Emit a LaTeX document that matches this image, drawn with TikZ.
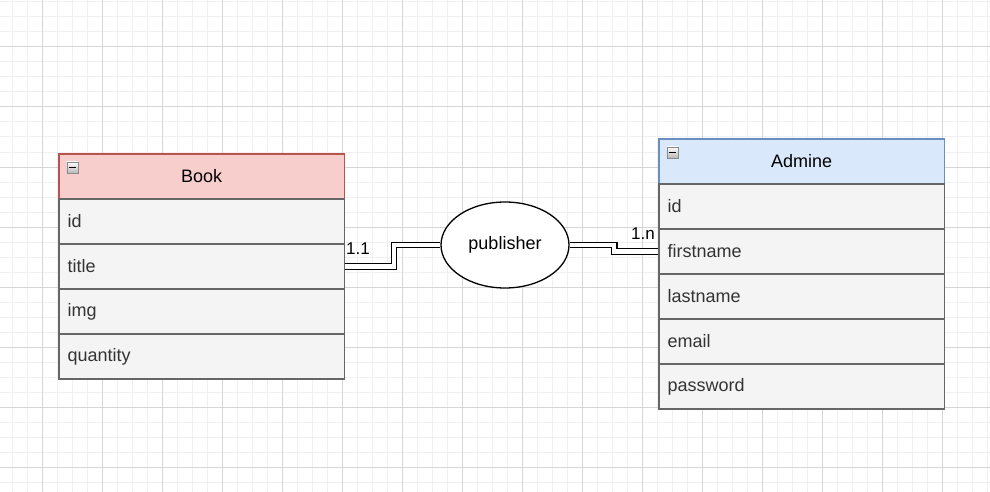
\documentclass[tikz,border=0pt]{standalone}
\usepackage{fontspec}
\setmainfont{Liberation Sans}
\usetikzlibrary{shapes.geometric}
\definecolor{gridminor}{HTML}{F0F0F0}
\definecolor{gridmajor}{HTML}{D6D6D6}
\definecolor{rowfill}{HTML}{F4F4F4}
\definecolor{rowline}{HTML}{666666}
\definecolor{rowtext}{HTML}{333333}
\definecolor{redfill}{HTML}{F8CECC}
\definecolor{redline}{HTML}{B85450}
\definecolor{bluefill}{HTML}{DAE8FC}
\definecolor{blueline}{HTML}{6C8EBF}
\definecolor{iconline}{HTML}{8A8A8A}
\tikzset{
  rowbox/.style={draw=rowline, fill=rowfill, line width=1.3pt, anchor=north west,
    minimum height=45pt, text width=268pt, inner xsep=8.7pt, align=left,
    text=rowtext, font=\fontsize{18}{21}\selectfont},
  headbox/.style={rowbox, align=center, text=black},
  relbox/.style={ellipse, draw=black, fill=white, line width=1.3pt,
    minimum width=128pt, minimum height=86pt, inner sep=0pt,
    font=\fontsize{18}{21}\selectfont},
  link/.style={draw=black, line width=1.2pt, double=white, double distance=4.3pt},
  card/.style={font=\fontsize{17}{20}\selectfont, inner sep=0pt},
  icon/.style={draw=iconline, top color=white, bottom color=gray!55, line width=0.8pt,
    minimum width=11pt, minimum height=11pt, inner sep=0pt, anchor=north west}
}
\begin{document}
\begin{tikzpicture}[x=1pt, y=-1pt]
\useasboundingbox (0,0) rectangle (990,492);
\fill[white] (0,0) rectangle (990,492);
% grid
\foreach \gx in {12,27,...,987} \draw[gridminor, line width=1pt] (\gx,0) -- (\gx,492);
\foreach \gy in {2,17,...,490} \draw[gridminor, line width=1pt] (0,\gy) -- (990,\gy);
\foreach \gx in {42,102,...,990} \draw[gridmajor, line width=1pt] (\gx,0) -- (\gx,492);
\foreach \gy in {47,107,...,490} \draw[gridmajor, line width=1pt] (0,\gy) -- (990,\gy);

% Book table
\node[headbox, fill=redfill, draw=redline] (bhead) at (58.3,153.3) {Book};
\node[rowbox] (bid) at (58.3,198.3) {id};
\node[rowbox] (btitle) at (58.3,243.3) {title};
\node[rowbox] (bimg) at (58.3,288.3) {img};
\node[rowbox] (bqty) at (58.3,333.3) {quantity};
\node[icon] (bicon) at (66.5,161.5) {};
\draw[black, line width=1.2pt] ([xshift=2.2pt]bicon.west) -- ([xshift=-2.2pt]bicon.east);

% Admine table
\node[headbox, fill=bluefill, draw=blueline] (ahead) at (658.3,138.3) {Admine};
\node[rowbox] (aid) at (658.3,183.3) {id};
\node[rowbox] (afirst) at (658.3,228.3) {firstname};
\node[rowbox] (alast) at (658.3,273.3) {lastname};
\node[rowbox] (amail) at (658.3,318.3) {email};
\node[rowbox] (apass) at (658.3,363.3) {password};
\node[icon] (aicon) at (666.5,146.5) {};
\draw[black, line width=1.2pt] ([xshift=2.2pt]aicon.west) -- ([xshift=-2.2pt]aicon.east);

% relationship
\node[relbox] (pub) at (505,245) {publisher};

% connectors
\draw[link] (btitle.east) -- ++(49,0) |- (pub.west);
\draw[link] (pub.east) -- ++(44.5,0) |- (afirst.west);

% cardinalities
\node[card] (c11) at (358,249) {1.1};
\node[card] (c1n) at (643,234) {1.n};
\end{tikzpicture}
\end{document}
